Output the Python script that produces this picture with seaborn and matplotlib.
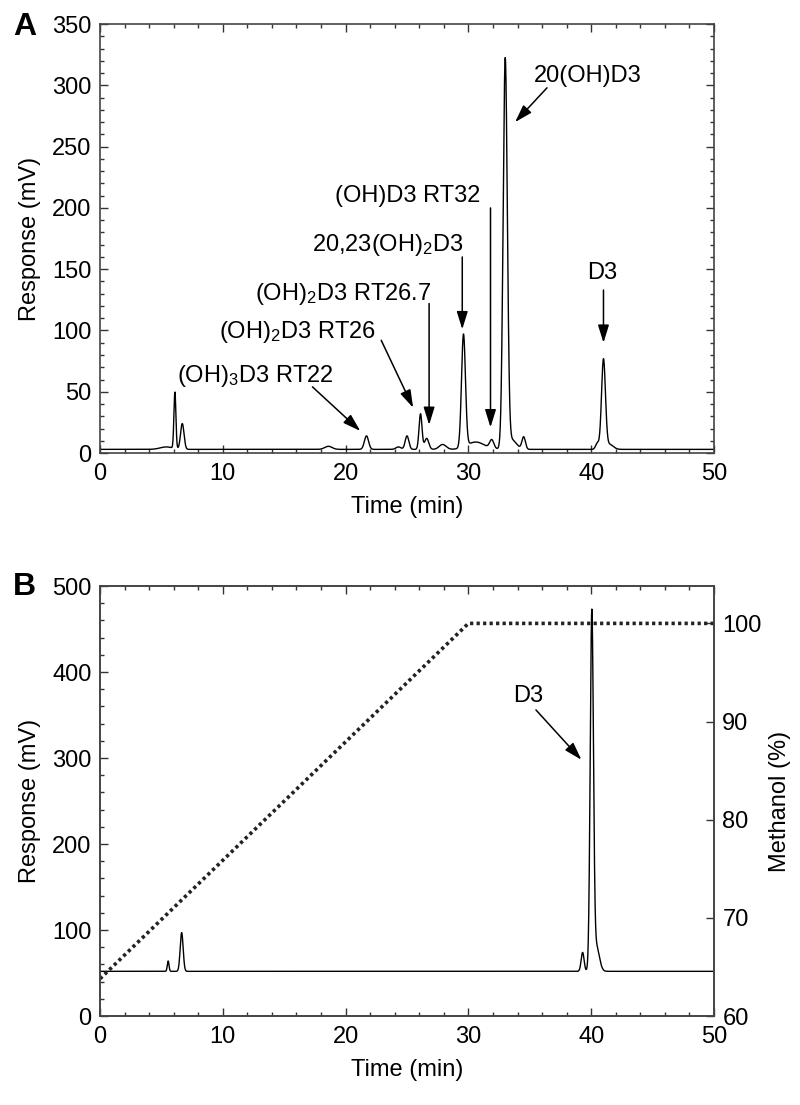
import numpy as np
import pandas as pd
import seaborn as sns
import matplotlib.pyplot as plt
from matplotlib.ticker import MultipleLocator

# panel A peak table: retention time (min), height above baseline (mV), width (min)
a_rt = [5.4, 6.1, 6.7, 18.6, 21.7, 24.3, 25.0, 26.1, 26.6, 27.9, 29.6, 30.6, 31.9, 33.0, 33.5, 34.5, 40.5, 41.0, 41.5]
a_height = [2, 46, 21, 2.5, 11, 2, 11, 29, 9, 4, 92, 6, 7, 316, 8, 10, 5, 73, 4]
a_width = [0.5, 0.08, 0.14, 0.3, 0.17, 0.2, 0.15, 0.12, 0.17, 0.28, 0.16, 0.7, 0.17, 0.17, 0.4, 0.14, 0.14, 0.16, 0.3]
a_base = 3.0

# panel B peak table
b_rt = [5.55, 6.65, 39.3, 40.05, 40.4]
b_height = [12, 45, 22, 410, 30]
b_width = [0.07, 0.12, 0.12, 0.13, 0.25]
b_base = 52.0

# methanol gradient
grad_time = [0, 30, 50]
grad_meoh = [63.8, 100, 100]

time = np.linspace(0, 50, 5001)


def trace(rt, height, width, base):
    y = np.full_like(time, base)
    for r, h, w in zip(rt, height, width):
        y += h * np.exp(-0.5 * ((time - r) / w) ** 2)
    return pd.DataFrame({'time': time, 'response': y})


df_a = trace(a_rt, a_height, a_width, a_base)
df_b = trace(b_rt, b_height, b_width, b_base)
df_grad = pd.DataFrame({'time': grad_time, 'methanol': grad_meoh})

sns.set_theme(style='ticks')
plt.rcParams['font.family'] = ['Liberation Sans', 'DejaVu Sans']
plt.rcParams['mathtext.fontset'] = 'custom'
plt.rcParams['mathtext.rm'] = 'Liberation Sans'
plt.rcParams['mathtext.it'] = 'Liberation Sans'
for k in ['text.color', 'axes.labelcolor', 'xtick.labelcolor', 'ytick.labelcolor']:
    plt.rcParams[k] = 'black'

FS = 17

fig = plt.figure(figsize=(8, 11.05), dpi=100)
axA = fig.add_axes([0.125, 0.590, 0.7675, 0.3882])
axB = fig.add_axes([0.125, 0.0805, 0.7675, 0.3891])


def style(ax, right=True):
    ax.set_xlim(0, 50)
    ax.xaxis.set_major_locator(MultipleLocator(10))
    ax.xaxis.set_minor_locator(MultipleLocator(2))
    ax.tick_params(which='both', direction='in', top=True, right=right,
                   labelsize=FS, color='#333333', labelcolor='black', width=1)
    ax.tick_params(which='major', length=6)
    ax.tick_params(which='minor', length=3)
    ax.tick_params(axis='x', pad=7)
    ax.tick_params(axis='y', pad=6)
    for s in ax.spines.values():
        s.set_linewidth(1.2)
        s.set_color('#444444')
        s.set_visible(True)
    ax.set_xlabel('Time (min)', fontsize=FS, labelpad=8, color='black')
    ax.set_ylabel('Response (mV)', fontsize=FS, labelpad=8, color='black')


# ---- panel A
sns.lineplot(data=df_a, x='time', y='response', ax=axA, color='black',
             lw=1.0, estimator=None, sort=False)
style(axA)
axA.set_ylim(0, 350)
axA.yaxis.set_major_locator(MultipleLocator(50))
axA.yaxis.set_minor_locator(MultipleLocator(10))

arrow = dict(arrowstyle='-|>,head_length=0.9,head_width=0.28', color='black',
             lw=1.1, shrinkA=0, shrinkB=0)
notes_a = [
    ('(OH)$_3$D3 RT22', (6.3, 58), 'left', (17.3, 54), (21.2, 18)),
    ('(OH)$_2$D3 RT26', (9.7, 94), 'left', (22.9, 92), (25.5, 37)),
    ('(OH)$_2$D3 RT26.7', (12.6, 125), 'left', (26.8, 122), (26.8, 23)),
    ('20,23(OH)$_2$D3', (17.3, 165), 'left', (29.5, 160), (29.5, 101)),
    ('(OH)D3 RT32', (19.1, 205), 'left', (31.8, 200), (31.8, 21)),
    ('20(OH)D3', (35.3, 303), 'left', (36.4, 298), (33.8, 270)),
    ('D3', (40.9, 142), 'center', (41.0, 133), (41.0, 90)),
]
for label, (tx, ty), ha, start, tip in notes_a:
    axA.text(tx, ty, label, ha=ha, va='baseline', fontsize=FS, color='black')
    axA.annotate('', xy=tip, xytext=start, arrowprops=arrow)

# ---- panel B
sns.lineplot(data=df_b, x='time', y='response', ax=axB, color='black',
             lw=1.0, estimator=None, sort=False)
style(axB, right=False)
axB.set_ylim(0, 500)
axB.yaxis.set_major_locator(MultipleLocator(100))
axB.yaxis.set_minor_locator(MultipleLocator(20))

axB2 = axB.twinx()
sns.lineplot(data=df_grad, x='time', y='methanol', ax=axB2, color='#222222',
             lw=2.6, linestyle=(0, (0.9, 0.9)), estimator=None, sort=False)
axB2.set_ylim(60, 103.8)
axB2.yaxis.set_major_locator(MultipleLocator(10))
axB2.tick_params(axis='y', direction='in', length=6, width=1, color='#333333',
                 labelsize=FS, labelcolor='black', pad=6)
axB2.set_ylabel('Methanol (%)', fontsize=FS, labelpad=5, color='black')
for s in axB2.spines.values():
    s.set_linewidth(1.2)
    s.set_color('#444444')

axB.text(34.9, 365, 'D3', ha='center', va='baseline', fontsize=FS, color='black')
axB.annotate('', xy=(39.2, 298), xytext=(35.5, 356), arrowprops=arrow)

fig.text(0.016, 0.989, 'A', fontsize=23, fontweight='bold', va='top', ha='left', color='black')
fig.text(0.016, 0.482, 'B', fontsize=23, fontweight='bold', va='top', ha='left', color='black')

fig.savefig('out.png', dpi=100)
